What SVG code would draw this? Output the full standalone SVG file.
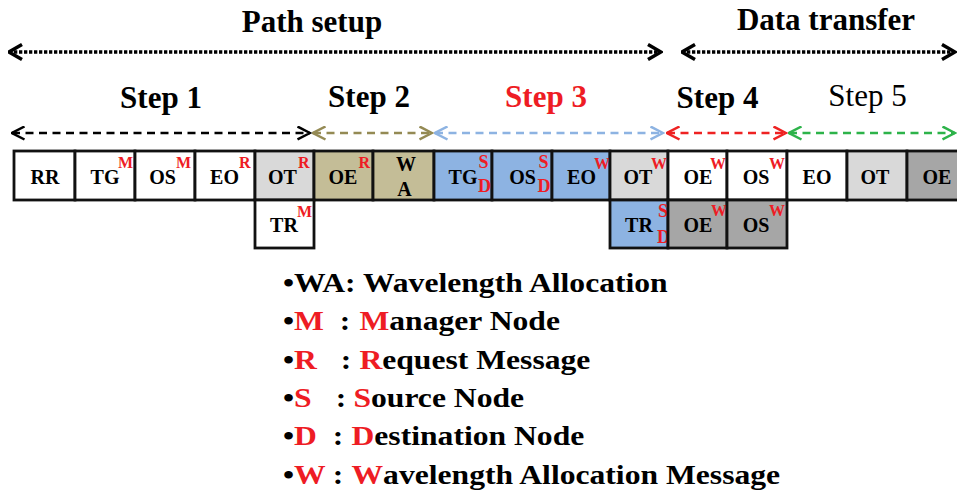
<svg xmlns="http://www.w3.org/2000/svg" width="957" height="494" viewBox="0 0 957 494" font-family="'Liberation Serif', 'Times New Roman', 'DejaVu Serif', serif">
  <style>
    .t { font-family: 'Liberation Serif', 'Times New Roman', 'DejaVu Serif', serif; font-weight: bold; }
    .title { font-size: 31px; text-anchor: middle; fill: #000; }
    .step { font-size: 31px; text-anchor: middle; fill: #000; }
    .plain { font-weight: normal; }
    .red { fill: #ee1c24; }
    .box { stroke: #111; stroke-width: 2.8; }
    .w { fill: #ffffff; }
    .lg { fill: #d9d9d9; }
    .kh { fill: #c4bd97; }
    .bl { fill: #8db3e2; }
    .dg { fill: #a6a6a6; }
    .lbl { font-size: 20px; text-anchor: middle; fill: #000; }
    .sup { font-size: 16px; fill: #ee1c24; }
    .sd { font-size: 18px; fill: #ee1c24; }
    .phase { fill: none; stroke: #000; stroke-width: 3.3; stroke-dasharray: 3.3 1.7; }
    .stepline { fill: none; stroke-width: 2.5; stroke-dasharray: 8 5.5; }
    .legend { font-size: 28px; fill: #000; }
  </style>
  <defs>
    <marker id="hBig" viewBox="0 0 16 18" refX="14.5" refY="9" markerWidth="16" markerHeight="18" markerUnits="userSpaceOnUse" orient="auto-start-reverse">
      <path d="M1.5,1.5 L14.5,9 L1.5,16.5" fill="none" stroke="#000" stroke-width="3.5"/>
    </marker>
    <marker id="hBlack" viewBox="0 0 15 15" refX="13.5" refY="7.5" markerWidth="15" markerHeight="15" markerUnits="userSpaceOnUse" orient="auto-start-reverse">
      <path d="M1,1 L13.5,7.5 L1,14" fill="none" stroke="#000" stroke-width="2.5"/>
    </marker>
    <marker id="hKhaki" viewBox="0 0 15 15" refX="13.5" refY="7.5" markerWidth="15" markerHeight="15" markerUnits="userSpaceOnUse" orient="auto-start-reverse">
      <path d="M1,1 L13.5,7.5 L1,14" fill="none" stroke="#948a54" stroke-width="2.5"/>
    </marker>
    <marker id="hBlue" viewBox="0 0 15 15" refX="13.5" refY="7.5" markerWidth="15" markerHeight="15" markerUnits="userSpaceOnUse" orient="auto-start-reverse">
      <path d="M1,1 L13.5,7.5 L1,14" fill="none" stroke="#8db3e2" stroke-width="2.5"/>
    </marker>
    <marker id="hRed" viewBox="0 0 15 15" refX="13.5" refY="7.5" markerWidth="15" markerHeight="15" markerUnits="userSpaceOnUse" orient="auto-start-reverse">
      <path d="M1,1 L13.5,7.5 L1,14" fill="none" stroke="#ee2222" stroke-width="2.5"/>
    </marker>
    <marker id="hGreen" viewBox="0 0 15 15" refX="13.5" refY="7.5" markerWidth="15" markerHeight="15" markerUnits="userSpaceOnUse" orient="auto-start-reverse">
      <path d="M1,1 L13.5,7.5 L1,14" fill="none" stroke="#2db34a" stroke-width="2.5"/>
    </marker>
  </defs>

  <rect width="957" height="494" fill="#ffffff"/>

  <!-- phase and step titles -->
  <g id="titles" class="t">
    <text class="title" x="312" y="32">Path setup</text>
    <text class="title" x="826" y="29.5">Data transfer</text>
    <text class="step" x="161" y="108">Step 1</text>
    <text class="step" x="369" y="107">Step 2</text>
    <text class="step red" x="546" y="107">Step 3</text>
    <text class="step" x="717.5" y="108">Step 4</text>
    <text class="step plain" x="867.5" y="106">Step 5</text>
  </g>

  <!-- span arrows -->
  <g id="connectors">
    <line class="phase" x1="9" y1="52" x2="661" y2="52" marker-start="url(#hBig)" marker-end="url(#hBig)"/>
    <line class="phase" x1="682" y1="52" x2="955" y2="52" marker-start="url(#hBig)" marker-end="url(#hBig)"/>
    <line class="stepline" x1="12" y1="133" x2="310" y2="133" stroke="#000" marker-start="url(#hBlack)" marker-end="url(#hBlack)"/>
    <line class="stepline" x1="313" y1="133" x2="432" y2="133" stroke="#948a54" marker-start="url(#hKhaki)" marker-end="url(#hKhaki)"/>
    <line class="stepline" x1="435" y1="133" x2="663" y2="133" stroke="#8db3e2" marker-start="url(#hBlue)" marker-end="url(#hBlue)"/>
    <line class="stepline" x1="667" y1="133" x2="786" y2="133" stroke="#ee2222" marker-start="url(#hRed)" marker-end="url(#hRed)"/>
    <line class="stepline" x1="789" y1="133" x2="955" y2="133" stroke="#2db34a" marker-start="url(#hGreen)" marker-end="url(#hGreen)"/>
  </g>

  <g class="t">
  <!-- upper row of slots -->
  <g id="slot-rr"><rect class="box w" x="14" y="151" width="61" height="49"/><text class="lbl" x="45" y="184">RR</text></g>
  <g id="slot-tg1"><rect class="box w" x="75" y="151" width="60" height="49"/><text class="lbl" x="105" y="184">TG</text><text class="sup" x="118" y="168">M</text></g>
  <g id="slot-os1"><rect class="box w" x="135" y="151" width="60" height="49"/><text class="lbl" x="162.5" y="184">OS</text><text class="sup" x="176" y="168">M</text></g>
  <g id="slot-eo1"><rect class="box w" x="195" y="151" width="60" height="49"/><text class="lbl" x="224.5" y="184">EO</text><text class="sup" x="239" y="168">R</text></g>
  <g id="slot-ot1"><rect class="box lg" x="255" y="151" width="59" height="49"/><text class="lbl" x="282.5" y="184">OT</text><text class="sup" x="298" y="168">R</text></g>
  <g id="slot-oe1"><rect class="box kh" x="314" y="151" width="59" height="49"/><text class="lbl" x="343" y="184">OE</text><text class="sup" x="358.5" y="168">R</text></g>
  <g id="slot-wa"><rect class="box kh" x="373" y="151" width="61" height="49"/><text class="lbl" x="406" y="171">W</text><text class="lbl" x="404.5" y="196">A</text></g>
  <g id="slot-tg2"><rect class="box bl" x="434" y="151" width="58" height="49"/><text class="lbl" x="463" y="184">TG</text><text class="sd" x="478.5" y="168">S</text><text class="sd" x="478" y="191.5">D</text></g>
  <g id="slot-os2"><rect class="box bl" x="492" y="151" width="60" height="49"/><text class="lbl" x="522.5" y="184">OS</text><text class="sd" x="538.5" y="168">S</text><text class="sd" x="537.5" y="191.5">D</text></g>
  <g id="slot-eo2"><rect class="box bl" x="552" y="151" width="58" height="49"/><text class="lbl" x="581.5" y="184">EO</text><text class="sup" x="594" y="169">W</text></g>
  <g id="slot-ot2"><rect class="box lg" x="610" y="151" width="58" height="49"/><text class="lbl" x="638" y="184">OT</text><text class="sup" x="651" y="169">W</text></g>
  <g id="slot-oe2"><rect class="box w" x="668" y="151" width="59" height="49"/><text class="lbl" x="698" y="184">OE</text><text class="sup" x="710" y="169">W</text></g>
  <g id="slot-os3"><rect class="box w" x="727" y="151" width="60" height="49"/><text class="lbl" x="756" y="184">OS</text><text class="sup" x="769" y="169">W</text></g>
  <g id="slot-eo3"><rect class="box w" x="787" y="151" width="60" height="49"/><text class="lbl" x="817" y="184">EO</text></g>
  <g id="slot-ot3"><rect class="box lg" x="847" y="151" width="60" height="49"/><text class="lbl" x="875" y="184">OT</text></g>
  <g id="slot-oe3"><rect class="box dg" x="907" y="151" width="60" height="49"/><text class="lbl" x="937" y="184">OE</text></g>

  <!-- lower row of slots -->
  <g id="slot-tr1"><rect class="box w" x="255" y="200" width="59" height="48"/><text class="lbl" x="284" y="232">TR</text><text class="sup" x="297" y="217">M</text></g>
  <g id="slot-tr2"><rect class="box bl" x="610" y="200" width="58" height="48"/><text class="lbl" x="639" y="232">TR</text><text class="sd" x="658" y="216.5">S</text><text class="sd" x="657" y="242.5">D</text></g>
  <g id="slot-oe4"><rect class="box dg" x="668" y="200" width="59" height="48"/><text class="lbl" x="698" y="232">OE</text><text class="sup" x="711" y="216">W</text></g>
  <g id="slot-os4"><rect class="box dg" x="727" y="200" width="60" height="48"/><text class="lbl" x="756" y="232">OS</text><text class="sup" x="769" y="216">W</text></g>
  </g>

  <!-- abbreviation key -->
  <g id="legend" class="t legend" transform="translate(283 0) scale(1.13 1)">
    <text x="0" y="292">•WA: Wavelength Allocation</text>
    <text y="330.5"><tspan x="0">•</tspan><tspan class="red">M</tspan><tspan x="50.2">:</tspan><tspan x="67.6" class="red">M</tspan>anager Node</text>
    <text y="369"><tspan x="0">•</tspan><tspan class="red">R</tspan><tspan x="51.1">:</tspan><tspan x="67.6" class="red">R</tspan>equest Message</text>
    <text y="407"><tspan x="0">•</tspan><tspan class="red">S</tspan><tspan x="46.7">:</tspan><tspan x="62.3" class="red">S</tspan>ource Node</text>
    <text y="445.5"><tspan x="0">•</tspan><tspan class="red">D</tspan><tspan x="44">:</tspan><tspan x="60.6" class="red">D</tspan>estination Node</text>
    <text y="484"><tspan x="0">•</tspan><tspan class="red">W</tspan><tspan x="44">:</tspan><tspan x="60.6" class="red">W</tspan>avelength Allocation Message</text>
  </g>
</svg>
